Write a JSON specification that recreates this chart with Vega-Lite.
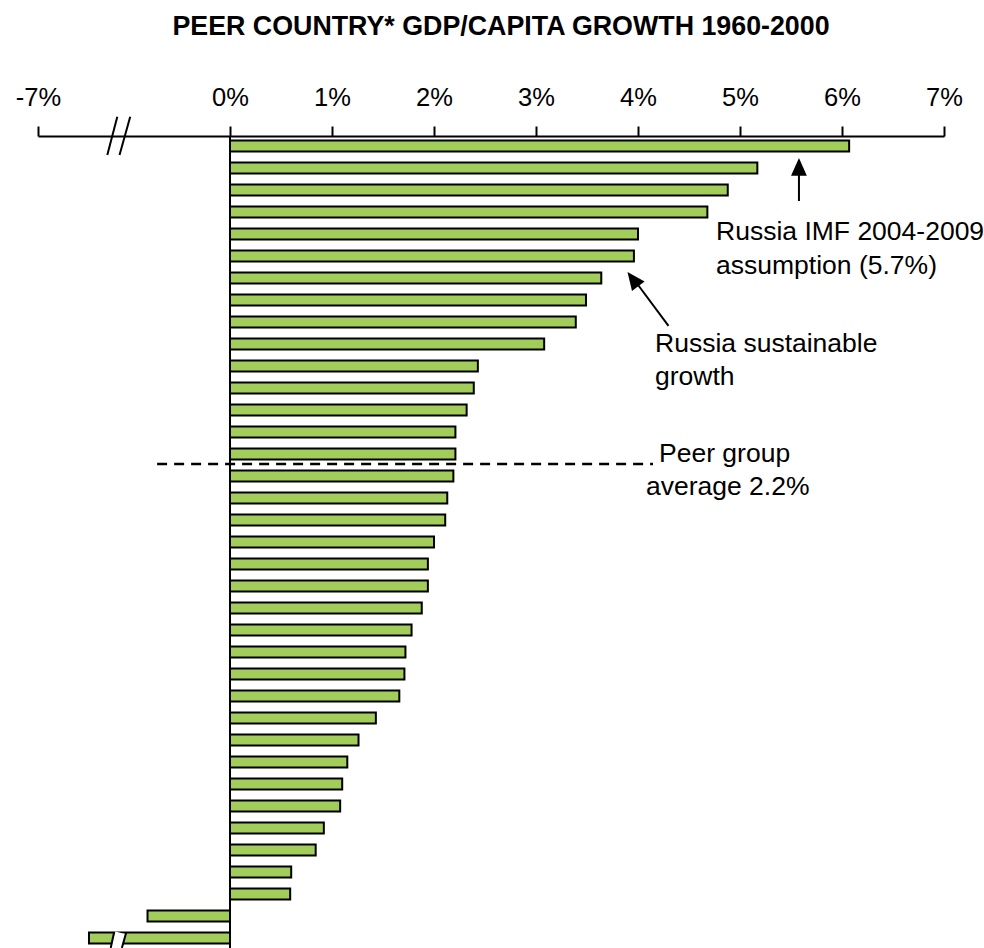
{
  "$schema": "https://vega.github.io/schema/vega-lite/v6.json",
  "width": 906,
  "height": 812,
  "autosize": {"type": "none"},
  "padding": {"left": 38, "top": 136, "right": 40, "bottom": 0},
  "background": "white",
  "config": {
    "view": {"stroke": null},
    "font": "Liberation Sans",
    "axisX": {
      "grid": false,
      "domainColor": "black",
      "domainWidth": 2,
      "tickColor": "black",
      "tickWidth": 2,
      "tickSize": 10,
      "labelFontSize": 25.5,
      "labelFont": "Liberation Sans",
      "labelColor": "black",
      "labelPadding": 21,
      "labelBaseline": "alphabetic",
      "labelFlush": false,
      "labelOverlap": false
    }
  },
  "title": {
    "text": "PEER COUNTRY* GDP/CAPITA GROWTH 1960-2000",
    "fontSize": 26.8,
    "fontWeight": "bold",
    "font": "Liberation Sans",
    "color": "black",
    "anchor": "middle",
    "frame": "group",
    "offset": 44,
    "dx": 10
  },
  "layer": [
    {
      "data": {
        "values": [
          {"rank": 1, "growth": 6.07},
          {"rank": 2, "growth": 5.17},
          {"rank": 3, "growth": 4.88},
          {"rank": 4, "growth": 4.68},
          {"rank": 5, "growth": 4.0},
          {"rank": 6, "growth": 3.96},
          {"rank": 7, "growth": 3.64},
          {"rank": 8, "growth": 3.49},
          {"rank": 9, "growth": 3.39},
          {"rank": 10, "growth": 3.08},
          {"rank": 11, "growth": 2.43},
          {"rank": 12, "growth": 2.39},
          {"rank": 13, "growth": 2.32},
          {"rank": 14, "growth": 2.21},
          {"rank": 15, "growth": 2.21},
          {"rank": 16, "growth": 2.19},
          {"rank": 17, "growth": 2.13},
          {"rank": 18, "growth": 2.11},
          {"rank": 19, "growth": 2.0},
          {"rank": 20, "growth": 1.94},
          {"rank": 21, "growth": 1.94},
          {"rank": 22, "growth": 1.88},
          {"rank": 23, "growth": 1.78},
          {"rank": 24, "growth": 1.72},
          {"rank": 25, "growth": 1.71},
          {"rank": 26, "growth": 1.66},
          {"rank": 27, "growth": 1.43},
          {"rank": 28, "growth": 1.26},
          {"rank": 29, "growth": 1.15},
          {"rank": 30, "growth": 1.1},
          {"rank": 31, "growth": 1.08},
          {"rank": 32, "growth": 0.92},
          {"rank": 33, "growth": 0.84},
          {"rank": 34, "growth": 0.6},
          {"rank": 35, "growth": 0.59},
          {"rank": 36, "growth": -0.81},
          {"rank": 37, "growth": -3.24}
        ]
      },
      "mark": {"type": "bar", "orient": "horizontal", "size": 11, "fill": "#a2cd5b", "stroke": "black", "strokeWidth": 2},
      "encoding": {
        "y": {
          "field": "rank",
          "type": "quantitative",
          "scale": {"domain": [0.5455, 37.4545], "reverse": true, "nice": false, "zero": false, "padding": 0},
          "axis": null
        },
        "x": {
          "field": "growth",
          "type": "quantitative",
          "scale": {"domain": [-7, -1.1, 0, 7], "range": [0, 80, 192, 906], "nice": false, "zero": false, "padding": 0},
          "axis": {
            "orient": "top",
            "values": [-7, 0, 1, 2, 3, 4, 5, 6, 7],
            "labelExpr": "datum.value + '%'",
            "title": null
          }
        },
        "x2": {"datum": 0}
      }
    },
    {
      "data": {"values": [{}]},
      "mark": {"type": "rule", "color": "black", "strokeWidth": 2},
      "encoding": {"x": {"datum": 0, "title": null}}
    },
    {
      "data": {"values": [{"x": -1.233, "n": 37.45, "x2": -1.078, "n2": 36.76}]},
      "mark": {"type": "rule", "color": "white", "strokeWidth": 10},
      "encoding": {
        "x": {"field": "x", "type": "quantitative", "title": null},
        "x2": {"field": "x2"},
        "y": {"field": "n", "type": "quantitative", "axis": null, "scale": {"domain": [0.5455, 37.4545], "reverse": true, "nice": false, "zero": false, "padding": 0}},
        "y2": {"field": "n2"}
      }
    },
    {
      "data": {
        "values": [
          {"x": -1.638, "n": 37.45, "x2": -1.395, "n2": 36.76},
          {"x": -1.062, "n": 37.45, "x2": -1.02, "n2": 36.76},
          {"x": -1.889, "n": 1.41, "x2": -1.152, "n2": -0.33},
          {"x": -1.085, "n": 1.41, "x2": -0.98, "n2": -0.33}
        ]
      },
      "mark": {"type": "rule", "color": "black", "strokeWidth": 2},
      "encoding": {
        "x": {"field": "x", "type": "quantitative", "title": null},
        "x2": {"field": "x2"},
        "y": {"field": "n", "type": "quantitative", "axis": null, "scale": {"domain": [0.5455, 37.4545], "reverse": true, "nice": false, "zero": false, "padding": 0}},
        "y2": {"field": "n2"}
      }
    },
    {
      "data": {"values": [{"x": -0.716, "x2": 4.147, "n": 15.4545}]},
      "mark": {"type": "rule", "color": "black", "strokeWidth": 2.5, "strokeDash": [10, 7]},
      "encoding": {
        "x": {"field": "x", "type": "quantitative", "title": null},
        "x2": {"field": "x2"},
        "y": {"field": "n", "type": "quantitative", "axis": null, "scale": {"domain": [0.5455, 37.4545], "reverse": true, "nice": false, "zero": false, "padding": 0}}
      }
    },
    {
      "data": {
        "values": [
          {"x": 5.578, "n": 1.7, "x2": 5.578, "n2": 3.5},
          {"x": 3.95, "n": 7.0, "x2": 4.299, "n2": 9.18}
        ]
      },
      "mark": {"type": "rule", "color": "black", "strokeWidth": 2},
      "encoding": {
        "x": {"field": "x", "type": "quantitative", "title": null},
        "x2": {"field": "x2"},
        "y": {"field": "n", "type": "quantitative", "axis": null, "scale": {"domain": [0.5455, 37.4545], "reverse": true, "nice": false, "zero": false, "padding": 0}},
        "y2": {"field": "n2"}
      }
    },
    {
      "data": {"values": [{"x": 5.578, "n": 1.545}]},
      "mark": {"type": "point", "shape": "M0,0L0.5,1.13L-0.5,1.13Z", "size": 1000, "filled": true, "color": "black", "opacity": 1, "strokeWidth": 0},
      "encoding": {
        "x": {"field": "x", "type": "quantitative", "title": null},
        "y": {"field": "n", "type": "quantitative", "axis": null, "scale": {"domain": [0.5455, 37.4545], "reverse": true, "nice": false, "zero": false, "padding": 0}}
      }
    },
    {
      "data": {"values": [{"x": 3.897, "n": 6.727}]},
      "mark": {"type": "point", "shape": "M0,0L0.5,1.13L-0.5,1.13Z", "size": 1000, "filled": true, "color": "black", "opacity": 1, "strokeWidth": 0, "angle": 322.8},
      "encoding": {
        "x": {"field": "x", "type": "quantitative", "title": null},
        "y": {"field": "n", "type": "quantitative", "axis": null, "scale": {"domain": [0.5455, 37.4545], "reverse": true, "nice": false, "zero": false, "padding": 0}}
      }
    },
    {
      "data": {
        "values": [
          {"x": 4.765, "n": 5.29, "label": "Russia IMF 2004-2009"},
          {"x": 4.765, "n": 6.8, "label": "assumption (5.7%)"},
          {"x": 4.167, "n": 10.37, "label": "Russia sustainable"},
          {"x": 4.167, "n": 11.88, "label": "growth"},
          {"x": 4.206, "n": 15.38, "label": "Peer group"},
          {"x": 4.078, "n": 16.85, "label": "average 2.2%"}
        ]
      },
      "mark": {"type": "text", "align": "left", "baseline": "alphabetic", "fontSize": 26.5, "font": "Liberation Sans", "color": "black"},
      "encoding": {
        "x": {"field": "x", "type": "quantitative", "title": null},
        "y": {"field": "n", "type": "quantitative", "axis": null, "scale": {"domain": [0.5455, 37.4545], "reverse": true, "nice": false, "zero": false, "padding": 0}},
        "text": {"field": "label"}
      }
    }
  ]
}
